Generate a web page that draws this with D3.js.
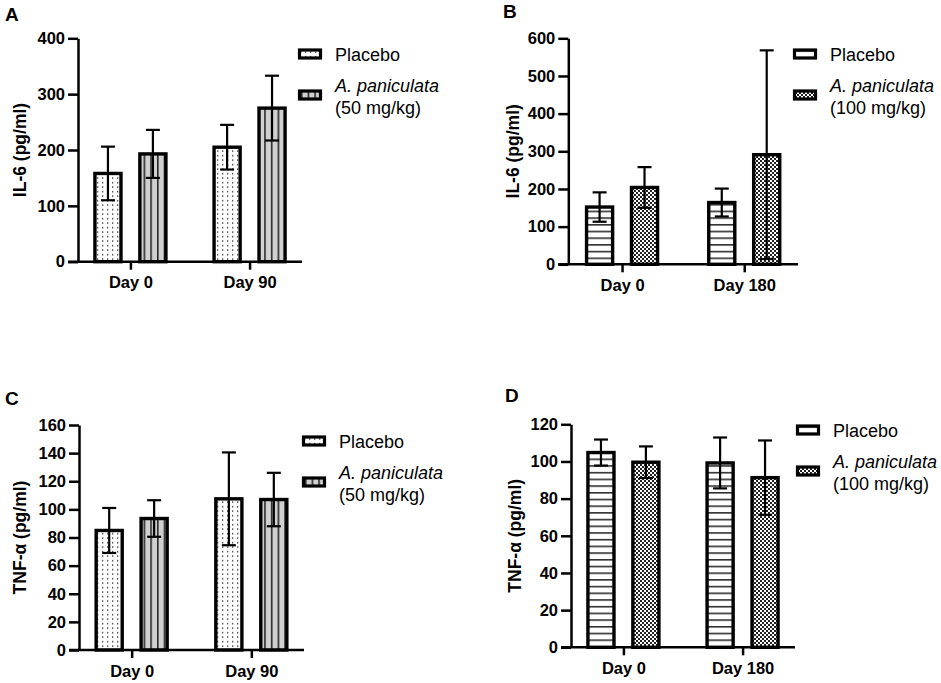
<!DOCTYPE html>
<html>
<head>
<meta charset="utf-8">
<script src="https://cdn.jsdelivr.net/npm/d3@7"></script>
<style>
  body { margin: 0; background: #fff; }
  svg text { font-family: "Liberation Sans", Arial, sans-serif; }
</style>
</head>
<body>
<svg id="chart" width="941" height="683"></svg>
<script>
// categories
const daysShort = ['Day 0', 'Day 90'];
const daysLong = ['Day 0', 'Day 180'];
const seriesNames = ['Placebo', 'A. paniculata'];

// panel A: IL-6, 50 mg/kg
const il6PlaceboA = [158, 205];
const il6PlaceboAsd = [48, 40];
const il6ApA = [193, 275];
const il6ApAsd = [43, 58];

// panel B: IL-6, 100 mg/kg
const il6PlaceboB = [152, 164];
const il6PlaceboBsd = [39, 37];
const il6ApB = [204, 291];
const il6ApBsd = [54, 277];

// panel C: TNF-a, 50 mg/kg
const tnfPlaceboC = [85, 107.5];
const tnfPlaceboCsd = [16, 33];
const tnfApC = [93.5, 107];
const tnfApCsd = [13, 19];

// panel D: TNF-a, 100 mg/kg
const tnfPlaceboD = [104.8, 99.2];
const tnfPlaceboDsd = [7, 13.7];
const tnfApD = [99.6, 91.3];
const tnfApDsd = [8.5, 20];

const svg = d3.select('#chart');
const defs = svg.append('defs');

// fill patterns
let p = defs.append('pattern').attr('id', 'dots')
  .attr('patternUnits', 'userSpaceOnUse').attr('width', 5).attr('height', 4.5);
p.append('rect').attr('width', 5).attr('height', 4.5).attr('fill', '#fff');
p.append('rect').attr('x', 2).attr('y', 2).attr('width', 1.3).attr('height', 1.3).attr('fill', '#222');

p = defs.append('pattern').attr('id', 'vlines')
  .attr('patternUnits', 'userSpaceOnUse').attr('width', 6.7).attr('height', 10);
p.append('rect').attr('width', 6.7).attr('height', 10).attr('fill', '#d0d0d0');
p.append('rect').attr('x', 3).attr('width', 1.4).attr('height', 10).attr('fill', '#111');

p = defs.append('pattern').attr('id', 'hlines')
  .attr('patternUnits', 'userSpaceOnUse').attr('width', 10).attr('height', 6.7);
p.append('rect').attr('width', 10).attr('height', 6.7).attr('fill', '#fff');
p.append('rect').attr('y', 3).attr('width', 10).attr('height', 1.4).attr('fill', '#111');

p = defs.append('pattern').attr('id', 'checks')
  .attr('patternUnits', 'userSpaceOnUse').attr('width', 4).attr('height', 4);
p.append('rect').attr('width', 4).attr('height', 4).attr('fill', '#fff');
p.append('rect').attr('width', 2).attr('height', 2).attr('fill', '#222');
p.append('rect').attr('x', 2).attr('y', 2).attr('width', 2).attr('height', 2).attr('fill', '#222');

const panels = [
  { letter: 'A', lx: 5, ly: 21, x0: 78, x1: 302, y0: 261.7, y1: 38.3, max: 400, step: 100,
    title: 'IL-6 (pg/ml)', titleX: 26, days: daysShort,
    means: [il6PlaceboA, il6ApA], sds: [il6PlaceboAsd, il6ApAsd],
    fills: ['dots', 'vlines'], dose: '(50 mg/kg)', legX: 298, legY: 54 },
  { letter: 'B', lx: 503, ly: 18, x0: 568.3, x1: 798, y0: 264.3, y1: 38.3, max: 600, step: 100,
    title: 'IL-6 (pg/ml)', titleX: 519, days: daysLong,
    means: [il6PlaceboB, il6ApB], sds: [il6PlaceboBsd, il6ApBsd],
    fills: ['hlines', 'checks'], dose: '(100 mg/kg)', legX: 793, legY: 54 },
  { letter: 'C', lx: 5, ly: 405, x0: 79, x1: 304, y0: 650, y1: 425, max: 160, step: 20,
    title: 'TNF-α (pg/ml)', titleX: 26, days: daysShort,
    means: [tnfPlaceboC, tnfApC], sds: [tnfPlaceboCsd, tnfApCsd],
    fills: ['dots', 'vlines'], dose: '(50 mg/kg)', legX: 302, legY: 441 },
  { letter: 'D', lx: 505, ly: 402, x0: 571, x1: 795, y0: 647.3, y1: 424.3, max: 120, step: 20,
    title: 'TNF-α (pg/ml)', titleX: 521, days: daysLong,
    means: [tnfPlaceboD, tnfApD], sds: [tnfPlaceboDsd, tnfApDsd],
    fills: ['hlines', 'checks'], dose: '(100 mg/kg)', legX: 796, legY: 430 }
];

panels.forEach(drawPanel);

function drawPanel(cfg) {
  const g = svg.append('g');

  const y = d3.scaleLinear().domain([0, cfg.max]).range([cfg.y0, cfg.y1]);
  const x = d3.scalePoint().domain(cfg.days).range([cfg.x0, cfg.x1]).padding(0.44);
  const sub = d3.scaleBand().domain(seriesNames).range([-35.5, 35.5]).paddingInner(0.42);

  // panel letter
  g.append('text').attr('x', cfg.lx).attr('y', cfg.ly)
    .attr('font-size', 19).attr('font-weight', 'bold').text(cfg.letter);

  // bars + error bars
  seriesNames.forEach((s, si) => {
    const rows = cfg.days.map((d, i) => ({ day: d, mean: cfg.means[si][i], sd: cfg.sds[si][i] }));
    const bar = g.selectAll('.bar' + si).data(rows).enter().append('g');

    bar.append('rect')
      .attr('x', d => x(d.day) + sub(s))
      .attr('y', d => y(d.mean))
      .attr('width', sub.bandwidth())
      .attr('height', d => y(0) - y(d.mean))
      .attr('fill', `url(#${cfg.fills[si]})`)
      .attr('stroke', '#000').attr('stroke-width', 3.4);

    const cx = d => x(d.day) + sub(s) + sub.bandwidth() / 2;
    bar.append('line')
      .attr('x1', cx).attr('x2', cx)
      .attr('y1', d => y(Math.max(0, d.mean - d.sd)))
      .attr('y2', d => y(d.mean + d.sd))
      .attr('stroke', '#000').attr('stroke-width', 2.2);
    [1, -1].forEach(sign => {
      bar.append('line')
        .attr('x1', d => cx(d) - 7).attr('x2', d => cx(d) + 7)
        .attr('y1', d => y(d.mean + sign * d.sd))
        .attr('y2', d => y(d.mean + sign * d.sd))
        .attr('stroke', '#000').attr('stroke-width', 2.2);
    });
  });

  // y axis
  const yAxis = g.append('g').attr('transform', `translate(${cfg.x0},0)`)
    .call(d3.axisLeft(y).tickValues(d3.range(0, cfg.max + 1, cfg.step)).tickSize(10).tickPadding(3).tickSizeOuter(0));
  // x axis
  const xAxis = g.append('g').attr('transform', `translate(0,${cfg.y0})`)
    .call(d3.axisBottom(x).tickSize(8).tickPadding(7).tickSizeOuter(0));

  [yAxis, xAxis].forEach(a => {
    a.select('.domain').attr('stroke-width', 2.5);
    a.selectAll('.tick line').attr('stroke-width', 2.5);
    a.selectAll('.tick text').attr('font-size', 16.5).attr('font-weight', 'bold')
      .attr('font-family', '"Liberation Sans", Arial, sans-serif').attr('fill', '#000');
  });
  xAxis.select('.domain').attr('d', `M${cfg.x0 - 10},0H${cfg.x1}`);

  // axis title
  g.append('text')
    .attr('transform', `translate(${cfg.titleX},${(cfg.y0 + cfg.y1) / 2}) rotate(-90)`)
    .attr('text-anchor', 'middle').attr('font-size', 17.5).attr('font-weight', 'bold')
    .text(cfg.title);

  // legend
  const leg = g.append('g').attr('transform', `translate(${cfg.legX},${cfg.legY})`);
  leg.append('rect').attr('x', 1.5).attr('y', -4).attr('width', 21).attr('height', 8)
    .attr('fill', `url(#${cfg.fills[0]})`).attr('stroke', '#000').attr('stroke-width', 3.2);
  leg.append('text').attr('x', 37).attr('y', 6.5).attr('font-size', 18).text('Placebo');
  leg.append('rect').attr('x', 1.5).attr('y', 37).attr('width', 21).attr('height', 8)
    .attr('fill', `url(#${cfg.fills[1]})`).attr('stroke', '#000').attr('stroke-width', 3.2);
  leg.append('text').attr('x', 37).attr('y', 37.5).attr('font-size', 18)
    .attr('font-style', 'italic').text('A. paniculata');
  leg.append('text').attr('x', 37).attr('y', 59.5).attr('font-size', 18).text(cfg.dose);
}
</script>
</body>
</html>
